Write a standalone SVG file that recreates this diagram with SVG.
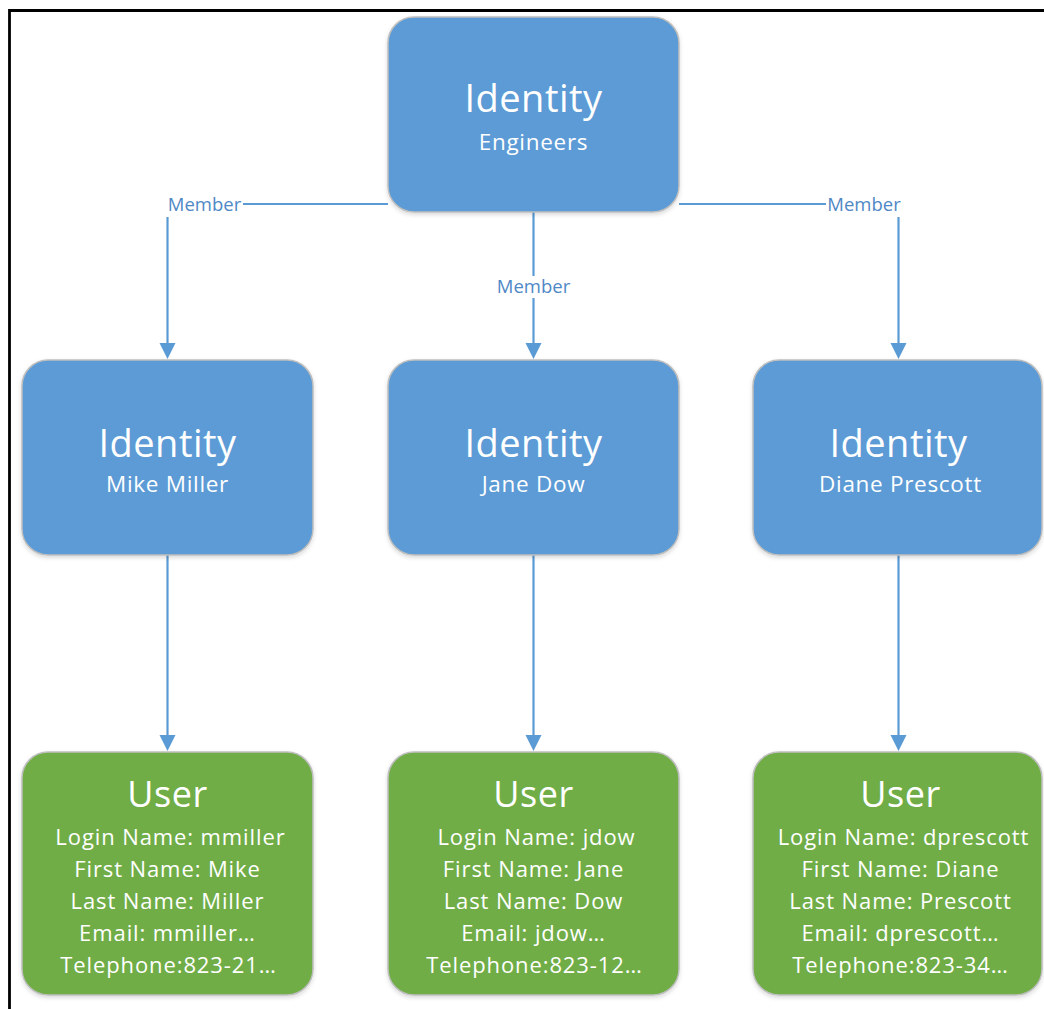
<svg xmlns="http://www.w3.org/2000/svg" width="1044" height="1009" viewBox="0 0 1044 1009">
<style>
.node rect{stroke:#BFBFBF;stroke-width:1.5;filter:url(#sh)}
.id rect{fill:#5B9BD5}
.usr rect{fill:#70AD47}
text{font-family:"Open Sans","Noto Sans",sans-serif;fill:#FFFFFF;text-anchor:middle}
.t1{font-size:38px;letter-spacing:0.5px}
.t2{font-size:22.5px;letter-spacing:0.7px}
.t3{font-size:36px;letter-spacing:0.5px}
.t4{font-size:22px;letter-spacing:0.9px}
.lbl{font-size:18.5px;fill:#4F88C6}
.conn path{fill:none;stroke:#5B9BD5;stroke-width:2.2}
.lblbg{fill:#FFFFFF}
</style>
<defs>
<filter id="sh" x="-10%" y="-10%" width="120%" height="125%">
<feDropShadow dx="0" dy="2" stdDeviation="2" flood-color="#000000" flood-opacity="0.15"/>
</filter>
</defs>
<rect x="0" y="0" width="1044" height="1009" fill="#FFFFFF"/>
<path d="M9.5,1009 L9.5,10.5 L1044,10.5" fill="none" stroke="#000000" stroke-width="2.8"/>
<g id="connectors" class="conn">
<path d="M388,204 L167.5,204 L167.5,343"/>
<path d="M533.5,212 L533.5,343"/>
<path d="M679,204 L898.5,204 L898.5,343"/>
<path d="M167.5,555 L167.5,735"/>
<path d="M533.5,555 L533.5,735"/>
<path d="M898.5,555 L898.5,735"/>
<polygon points="159.5,343 175.5,343 167.5,359" fill="#5B9BD5"/>
<polygon points="525.5,343 541.5,343 533.5,359" fill="#5B9BD5"/>
<polygon points="890.5,343 906.5,343 898.5,359" fill="#5B9BD5"/>
<polygon points="159.5,735 175.5,735 167.5,751" fill="#5B9BD5"/>
<polygon points="525.5,735 541.5,735 533.5,751" fill="#5B9BD5"/>
<polygon points="890.5,735 906.5,735 898.5,751" fill="#5B9BD5"/>
<rect class="lblbg" x="165" y="194" width="78" height="23"/>
<text class="lbl" x="204.5" y="211">Member</text>
<rect class="lblbg" x="494" y="276" width="79" height="22"/>
<text class="lbl" x="533.5" y="293">Member</text>
<rect class="lblbg" x="826" y="194" width="77" height="23"/>
<text class="lbl" x="864" y="211">Member</text>
</g>
<g id="node-engineers" class="node id">
<rect x="388" y="17" width="291" height="195" rx="26"/>
<text class="t1" x="533.5" y="112">Identity</text>
<text class="t2" x="533.5" y="150">Engineers</text>
</g>
<g id="node-mike" class="node id">
<rect x="22" y="360" width="291" height="195" rx="26"/>
<text class="t1" x="167.5" y="457">Identity</text>
<text class="t2" x="167.5" y="492">Mike Miller</text>
</g>
<g id="node-jane" class="node id">
<rect x="388" y="360" width="291" height="195" rx="26"/>
<text class="t1" x="533.5" y="457">Identity</text>
<text class="t2" x="533.5" y="492">Jane Dow</text>
</g>
<g id="node-diane" class="node id">
<rect x="753" y="360" width="289" height="195" rx="26"/>
<text class="t1" x="898.5" y="457">Identity</text>
<text class="t2" x="900.5" y="492">Diane Prescott</text>
</g>
<g id="user-mmiller" class="node usr">
<rect x="22" y="752" width="291" height="243" rx="26"/>
<text class="t3" x="167.5" y="807">User</text>
<text class="t4" x="170.5" y="845">Login Name: mmiller</text>
<text class="t4" x="167.5" y="877">First Name: Mike</text>
<text class="t4" x="167.5" y="909">Last Name: Miller</text>
<text class="t4" x="167.5" y="941">Email: mmiller…</text>
<text class="t4" x="168.5" y="973">Telephone:823-21…</text>
</g>
<g id="user-jdow" class="node usr">
<rect x="388" y="752" width="291" height="243" rx="26"/>
<text class="t3" x="533.5" y="807">User</text>
<text class="t4" x="536.5" y="845">Login Name: jdow</text>
<text class="t4" x="533.5" y="877">First Name: Jane</text>
<text class="t4" x="533.5" y="909">Last Name: Dow</text>
<text class="t4" x="533.5" y="941">Email: jdow…</text>
<text class="t4" x="534.5" y="973">Telephone:823-12…</text>
</g>
<g id="user-dprescott" class="node usr">
<rect x="753" y="752" width="289" height="243" rx="26"/>
<text class="t3" x="900.5" y="807">User</text>
<text class="t4" x="903.5" y="845">Login Name: dprescott</text>
<text class="t4" x="900.5" y="877">First Name: Diane</text>
<text class="t4" x="900.5" y="909">Last Name: Prescott</text>
<text class="t4" x="900.5" y="941">Email: dprescott…</text>
<text class="t4" x="900.5" y="973">Telephone:823-34…</text>
</g>
</svg>
